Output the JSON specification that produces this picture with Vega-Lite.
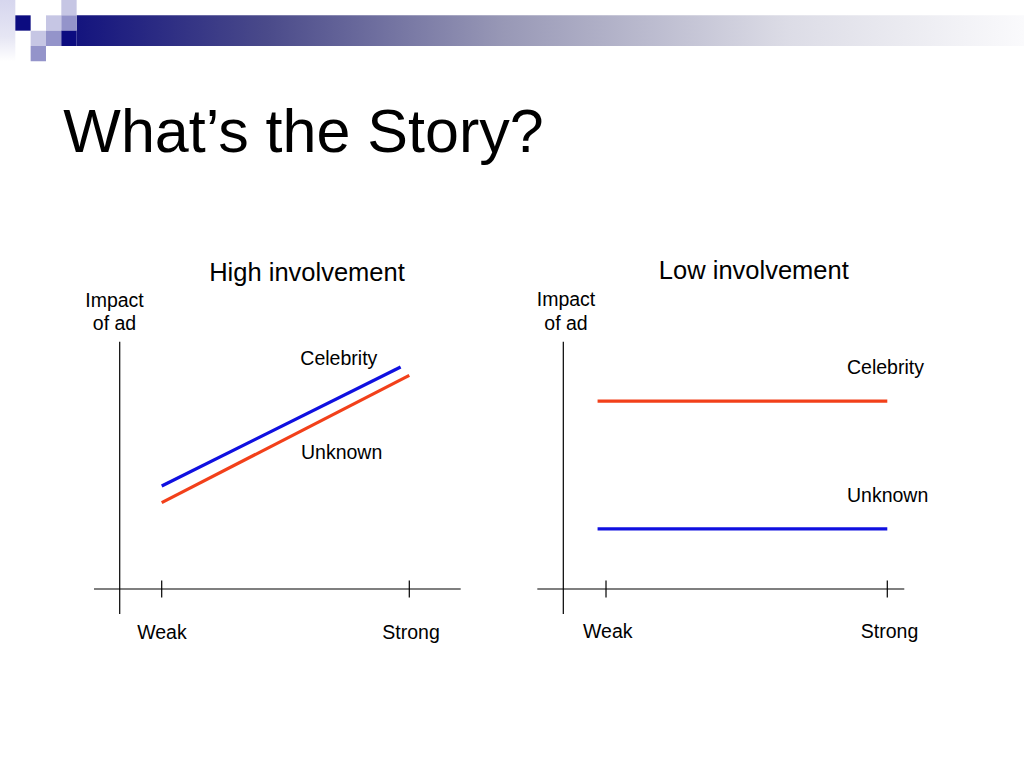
{
  "$schema": "https://vega.github.io/schema/vega-lite/v6.json",
  "padding": 0,
  "background": "white",
  "bounds": "flush",
  "spacing": 0,
  "config": {"view": {"stroke": null}, "font": "Liberation Sans"},
  "datasets": {
    "squares": [
      {"c0": 1, "c1": 2, "r0": 1, "r1": 2, "shade": "navy"},
      {"c0": 4, "c1": 5, "r0": 0, "r1": 1, "shade": "light"},
      {"c0": 3, "c1": 4, "r0": 1, "r1": 2, "shade": "light"},
      {"c0": 4, "c1": 5, "r0": 1, "r1": 2, "shade": "medium"},
      {"c0": 2, "c1": 3, "r0": 2, "r1": 3, "shade": "light"},
      {"c0": 3, "c1": 4, "r0": 2, "r1": 3, "shade": "medium"},
      {"c0": 4, "c1": 5, "r0": 2, "r1": 3, "shade": "navy"},
      {"c0": 2, "c1": 3, "r0": 3, "r1": 4, "shade": "medium"}
    ],
    "stripe": [{"c0": 0, "c1": 1, "r0": 0, "r1": 4}],
    "bar": [{"c0": 5, "c1": 66.8, "r0": 1, "r1": 3}],
    "heading": [{"text": "What’s the Story?", "c": 4.13, "r": 9.896}],
    "lines": [
      {"panel": "High", "series": "Celebrity", "strength": 0, "impact": 4.165},
      {"panel": "High", "series": "Celebrity", "strength": 9.65, "impact": 8.977},
      {"panel": "High", "series": "Unknown", "strength": 0, "impact": 3.49},
      {"panel": "High", "series": "Unknown", "strength": 10, "impact": 8.641},
      {"panel": "Low", "series": "Celebrity", "strength": -0.3, "impact": 7.6},
      {"panel": "Low", "series": "Celebrity", "strength": 10, "impact": 7.6},
      {"panel": "Low", "series": "Unknown", "strength": -0.3, "impact": 2.43},
      {"panel": "Low", "series": "Unknown", "strength": 10, "impact": 2.43}
    ],
    "axes": [
      {"panel": "High", "x1": -1.696, "x2": -1.696, "y1": -1.011, "y2": 10},
      {"panel": "High", "x1": -2.734, "x2": 12.076, "y1": 0, "y2": 0},
      {"panel": "High", "x1": 0, "x2": 0, "y1": -0.34, "y2": 0.34},
      {"panel": "High", "x1": 10, "x2": 10, "y1": -0.34, "y2": 0.34},
      {"panel": "Low", "x1": -1.518, "x2": -1.518, "y1": -1.011, "y2": 10},
      {"panel": "Low", "x1": -2.442, "x2": 10.604, "y1": 0, "y2": 0},
      {"panel": "Low", "x1": 0, "x2": 0, "y1": -0.34, "y2": 0.34},
      {"panel": "Low", "x1": 10, "x2": 10, "y1": -0.34, "y2": 0.34}
    ],
    "labels": [
      {"panel": "High", "kind": "title", "text": "High involvement", "x": 5.868, "y": 12.434},
      {"panel": "High", "kind": "center", "text": "Impact", "x": -1.906, "y": 11.423},
      {"panel": "High", "kind": "center", "text": "of ad", "x": -1.906, "y": 10.473},
      {"panel": "High", "kind": "center", "text": "Weak", "x": 0.01, "y": -2.034},
      {"panel": "High", "kind": "center", "text": "Strong", "x": 10.07, "y": -2.022},
      {"panel": "High", "kind": "series", "text": "Celebrity", "x": 5.6, "y": 9.058},
      {"panel": "High", "kind": "series", "text": "Unknown", "x": 5.626, "y": 5.257},
      {"panel": "Low", "kind": "title", "text": "Low involvement", "x": 5.255, "y": 12.523},
      {"panel": "Low", "kind": "center", "text": "Impact", "x": -1.422, "y": 11.443},
      {"panel": "Low", "kind": "center", "text": "of ad", "x": -1.422, "y": 10.473},
      {"panel": "Low", "kind": "center", "text": "Weak", "x": 0.064, "y": -1.994},
      {"panel": "Low", "kind": "center", "text": "Strong", "x": 10.078, "y": -1.981},
      {"panel": "Low", "kind": "series", "text": "Celebrity", "x": 8.567, "y": 8.682},
      {"panel": "Low", "kind": "series", "text": "Unknown", "x": 8.567, "y": 3.506}
    ]
  },
  "resolve": {"scale": {"x": "independent", "y": "independent", "color": "independent"}},
  "vconcat": [
    {
      "width": 1024,
      "height": 240,
      "layer": [
        {
          "data": {"name": "stripe"},
          "mark": {"type": "rect", "color": {"gradient": "linear", "x1": 0, "y1": 0, "x2": 0, "y2": 1, "stops": [{"offset": 0, "color": "#d6d6ee"}, {"offset": 0.6, "color": "#e6e6f4"}, {"offset": 1, "color": "#ffffff"}]}},
          "encoding": {
            "x": {"field": "c0", "type": "quantitative", "scale": {"domain": [0, 66.8], "nice": false, "zero": false}, "axis": null},
            "x2": {"field": "c1"},
            "y": {"field": "r0", "type": "quantitative", "scale": {"domain": [0, 15.656], "nice": false, "zero": false, "reverse": true}, "axis": null},
            "y2": {"field": "r1"}
          }
        },
        {
          "data": {"name": "bar"},
          "mark": {"type": "rect", "color": {"gradient": "linear", "x1": 0, "y1": 0, "x2": 1, "y2": 0, "stops": [{"offset": 0, "color": "#14147e"}, {"offset": 0.2, "color": "#4a4a8a"}, {"offset": 0.45, "color": "#9898b6"}, {"offset": 0.75, "color": "#dcdce6"}, {"offset": 1, "color": "#fafafc"}]}},
          "encoding": {
            "x": {"field": "c0", "type": "quantitative", "scale": {"domain": [0, 66.8], "nice": false, "zero": false}, "axis": null},
            "x2": {"field": "c1"},
            "y": {"field": "r0", "type": "quantitative", "scale": {"domain": [0, 15.656], "nice": false, "zero": false, "reverse": true}, "axis": null},
            "y2": {"field": "r1"}
          }
        },
        {
          "data": {"name": "squares"},
          "mark": {"type": "rect"},
          "encoding": {
            "x": {"field": "c0", "type": "quantitative", "scale": {"domain": [0, 66.8], "nice": false, "zero": false}, "axis": null},
            "x2": {"field": "c1"},
            "y": {"field": "r0", "type": "quantitative", "scale": {"domain": [0, 15.656], "nice": false, "zero": false, "reverse": true}, "axis": null},
            "y2": {"field": "r1"},
            "color": {"field": "shade", "type": "nominal", "scale": {"domain": ["navy", "medium", "light"], "range": ["#0c0c80", "#9494ca", "#c6c6e4"]}, "legend": null}
          }
        },
        {
          "data": {"name": "heading"},
          "mark": {"type": "text", "align": "left", "baseline": "alphabetic", "fontSize": 61, "font": "Liberation Sans", "color": "black"},
          "encoding": {
            "x": {"field": "c", "type": "quantitative", "scale": {"domain": [0, 66.8], "nice": false, "zero": false}, "axis": null},
            "y": {"field": "r", "type": "quantitative", "scale": {"domain": [0, 15.656], "nice": false, "zero": false, "reverse": true}, "axis": null},
            "text": {"field": "text"}
          }
        }
      ]
    },
    {
      "spacing": 0,
      "bounds": "flush",
      "resolve": {"scale": {"x": "independent", "y": "independent", "color": "independent"}},
      "hconcat": [
        {
          "width": 512,
          "height": 528,
          "encoding": {
            "x": {"type": "quantitative", "scale": {"domain": [-6.531, 14.148], "nice": false, "zero": false}, "axis": null},
            "y": {"type": "quantitative", "scale": {"domain": [-7.238, 14.112], "nice": false, "zero": false}, "axis": null}
          },
          "layer": [
            {
              "data": {"name": "axes"},
              "transform": [{"filter": "datum.panel === 'High'"}],
              "mark": {"type": "rule", "color": "black", "strokeWidth": 1.2},
              "encoding": {
                "x": {"field": "x1", "type": "quantitative"},
                "x2": {"field": "x2"},
                "y": {"field": "y1", "type": "quantitative"},
                "y2": {"field": "y2"}
              }
            },
            {
              "data": {"name": "lines"},
              "transform": [{"filter": "datum.panel === 'High'"}],
              "mark": {"type": "line", "strokeWidth": 3.2},
              "encoding": {
                "x": {"field": "strength", "type": "quantitative"},
                "y": {"field": "impact", "type": "quantitative"},
                "color": {"field": "series", "type": "nominal", "scale": {"domain": ["Celebrity", "Unknown"], "range": ["#1010e0", "#f2401a"]}, "legend": null}
              }
            },
            {
              "data": {"name": "labels"},
              "transform": [{"filter": "datum.panel === 'High' && datum.kind === 'title'"}],
              "mark": {"type": "text", "align": "center", "baseline": "alphabetic", "fontSize": 25.5, "color": "black"},
              "encoding": {
                "x": {"field": "x", "type": "quantitative"},
                "y": {"field": "y", "type": "quantitative"},
                "text": {"field": "text"}
              }
            },
            {
              "data": {"name": "labels"},
              "transform": [{"filter": "datum.panel === 'High' && datum.kind === 'center'"}],
              "mark": {"type": "text", "align": "center", "baseline": "alphabetic", "fontSize": 19.5, "color": "black"},
              "encoding": {
                "x": {"field": "x", "type": "quantitative"},
                "y": {"field": "y", "type": "quantitative"},
                "text": {"field": "text"}
              }
            },
            {
              "data": {"name": "labels"},
              "transform": [{"filter": "datum.panel === 'High' && datum.kind === 'series'"}],
              "mark": {"type": "text", "align": "left", "baseline": "alphabetic", "fontSize": 19.5, "color": "black"},
              "encoding": {
                "x": {"field": "x", "type": "quantitative"},
                "y": {"field": "y", "type": "quantitative"},
                "text": {"field": "text"}
              }
            }
          ]
        },
        {
          "width": 512,
          "height": 528,
          "encoding": {
            "x": {"type": "quantitative", "scale": {"domain": [-3.342, 14.86], "nice": false, "zero": false}, "axis": null},
            "y": {"type": "quantitative", "scale": {"domain": [-7.238, 14.112], "nice": false, "zero": false}, "axis": null}
          },
          "layer": [
            {
              "data": {"name": "axes"},
              "transform": [{"filter": "datum.panel === 'Low'"}],
              "mark": {"type": "rule", "color": "black", "strokeWidth": 1.2},
              "encoding": {
                "x": {"field": "x1", "type": "quantitative"},
                "x2": {"field": "x2"},
                "y": {"field": "y1", "type": "quantitative"},
                "y2": {"field": "y2"}
              }
            },
            {
              "data": {"name": "lines"},
              "transform": [{"filter": "datum.panel === 'Low'"}],
              "mark": {"type": "line", "strokeWidth": 3.2},
              "encoding": {
                "x": {"field": "strength", "type": "quantitative"},
                "y": {"field": "impact", "type": "quantitative"},
                "color": {"field": "series", "type": "nominal", "scale": {"domain": ["Celebrity", "Unknown"], "range": ["#f2401a", "#1010e0"]}, "legend": null}
              }
            },
            {
              "data": {"name": "labels"},
              "transform": [{"filter": "datum.panel === 'Low' && datum.kind === 'title'"}],
              "mark": {"type": "text", "align": "center", "baseline": "alphabetic", "fontSize": 25.5, "color": "black"},
              "encoding": {
                "x": {"field": "x", "type": "quantitative"},
                "y": {"field": "y", "type": "quantitative"},
                "text": {"field": "text"}
              }
            },
            {
              "data": {"name": "labels"},
              "transform": [{"filter": "datum.panel === 'Low' && datum.kind === 'center'"}],
              "mark": {"type": "text", "align": "center", "baseline": "alphabetic", "fontSize": 19.5, "color": "black"},
              "encoding": {
                "x": {"field": "x", "type": "quantitative"},
                "y": {"field": "y", "type": "quantitative"},
                "text": {"field": "text"}
              }
            },
            {
              "data": {"name": "labels"},
              "transform": [{"filter": "datum.panel === 'Low' && datum.kind === 'series'"}],
              "mark": {"type": "text", "align": "left", "baseline": "alphabetic", "fontSize": 19.5, "color": "black"},
              "encoding": {
                "x": {"field": "x", "type": "quantitative"},
                "y": {"field": "y", "type": "quantitative"},
                "text": {"field": "text"}
              }
            }
          ]
        }
      ]
    }
  ]
}
